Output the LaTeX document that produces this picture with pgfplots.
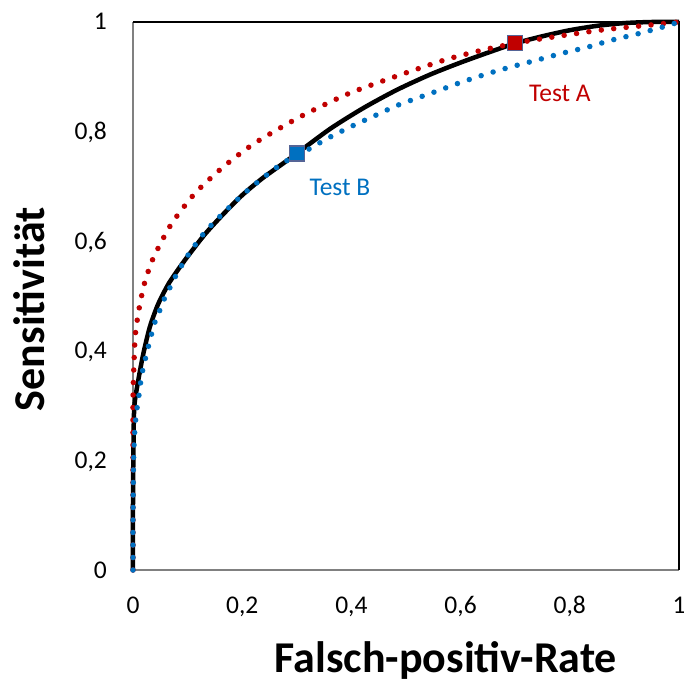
\documentclass[border=0pt]{standalone}
\usepackage{pgfplots}
\pgfplotsset{compat=1.18}
\usepackage{fontspec}
\setmainfont{Carlito}
\definecolor{cred}{RGB}{192,0,0}
\definecolor{cblue}{RGB}{0,112,192}
\definecolor{cmark}{RGB}{85,100,150}
\begin{document}
\begin{tikzpicture}
\begin{axis}[
  at={(0pt,0pt)}, anchor=south west,
  scale only axis, width=546pt, height=548pt,
  xmin=0, xmax=1, ymin=0, ymax=1,
  clip=false,
  axis line style={draw=none},
  major tick length=0pt,
  xtick={0,0.2,0.4,0.6,0.8,1},
  ytick={0,0.2,0.4,0.6,0.8,1},
  /pgf/number format/assume math mode=true,
  /pgf/number format/use comma,
  ticklabel style={font=\fontsize{25.5}{30}\selectfont},
  xticklabel style={anchor=base, inner sep=0pt, yshift=-43pt},
  yticklabel style={anchor=base east, inner sep=0pt, xshift=-26pt, yshift=-8pt},
  xlabel={Falsch-positiv-Rate},
  ylabel={Sensitivität},
  every axis x label/.style={at={(axis description cs:0.573,0)}, anchor=base, yshift=-102pt, font=\fontsize{44}{48}\selectfont\bfseries},
  every axis y label/.style={at={(axis description cs:0,0.476)}, xshift=-88pt, rotate=90, anchor=base, font=\fontsize{44}{48}\selectfont\bfseries},
]
\draw[gray, line width=2pt] (axis cs:0,1) -- (axis cs:0,0) -- (axis cs:1,0);
\draw[black, line width=2pt] (axis cs:0,1) -- (axis cs:1,1) -- (axis cs:1,0);

% black solid curve
\addplot[black, line width=4.5pt, smooth, tension=0.45, line join=round] coordinates {
(0,0) (0,0.12) (0.0008,0.22) (0.0024,0.298) (0.0098,0.347) (0.019,0.395) (0.031,0.444) (0.046,0.485) (0.065,0.522) (0.086,0.553)
(0.103,0.576) (0.132,0.613) (0.165,0.649) (0.2,0.684) (0.236,0.714) (0.275,0.742) (0.3,0.760) (0.361,0.805) (0.422,0.843)
(0.483,0.876) (0.544,0.904) (0.6,0.926) (0.65,0.944) (0.7,0.961) (0.75,0.974) (0.8,0.985) (0.85,0.993)
(0.9,0.998) (0.95,1) (1,1)};

% Test A (red dotted)
\addplot[cred, line width=5.5pt, line cap=round, dash pattern=on 0pt off 12.5pt, smooth, tension=0.4] coordinates {
(0,0) (0,0.15) (0,0.31) (0.002,0.382) (0.0043,0.43) (0.011,0.476) (0.021,0.523) (0.037,0.569) (0.07,0.631) (0.114,0.688)
(0.167,0.737) (0.223,0.779) (0.306,0.827) (0.394,0.869) (0.482,0.901) (0.575,0.932) (0.65,0.951) (0.733,0.967)
(0.855,0.985) (0.952,0.995) (1,1)};

% Test B (blue dotted)
\addplot[cblue, line width=5.5pt, line cap=round, dash pattern=on 0pt off 12.5pt, smooth, tension=0.4] coordinates {
(0,0) (0,0.1) (0.001,0.2) (0.003,0.25) (0.006,0.286) (0.0098,0.31) (0.016,0.356) (0.027,0.403) (0.039,0.449) (0.048,0.471)
(0.057,0.494) (0.068,0.516) (0.08,0.54) (0.103,0.578) (0.132,0.617) (0.165,0.651) (0.2,0.684) (0.236,0.714) (0.275,0.743)
(0.317,0.765) (0.357,0.788) (0.401,0.81) (0.445,0.83) (0.487,0.849) (0.557,0.874) (0.601,0.89) (0.647,0.905) (0.692,0.918)
(0.738,0.93) (0.786,0.943) (0.832,0.954) (0.877,0.967) (0.923,0.978) (0.971,0.991) (1,1)};

% markers
\addplot[only marks, mark=square*, mark size=7.5pt, mark options={fill=cred, draw=cmark, line width=1.5pt}] coordinates {(0.7,0.962)};
\addplot[only marks, mark=square*, mark size=7.5pt, mark options={fill=cblue, draw=cmark, line width=1.5pt}] coordinates {(0.3,0.760)};

\node[text=cred, font=\fontsize{25.5}{30}\selectfont] at (axis cs:0.782,0.870) {Test A};
\node[text=cblue, font=\fontsize{25.5}{30}\selectfont] at (axis cs:0.379,0.699) {Test B};
\end{axis}
\pgfresetboundingbox
\path[use as bounding box] (-133pt,-116pt) rectangle (551pt,570pt);
\end{tikzpicture}
\end{document}
